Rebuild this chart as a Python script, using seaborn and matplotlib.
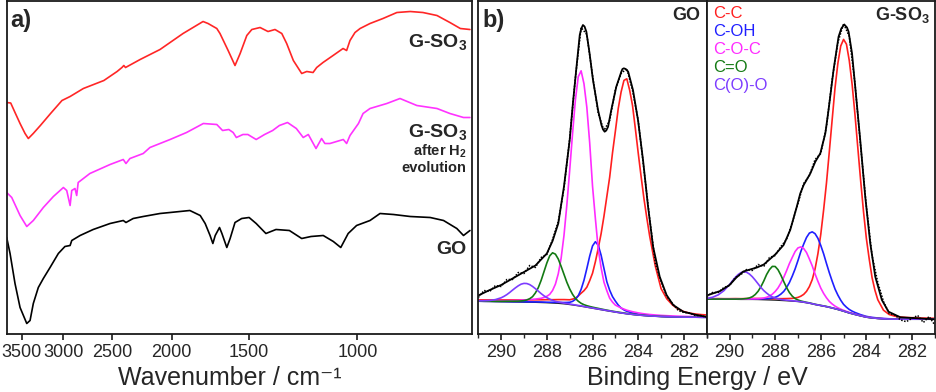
import numpy as np
import matplotlib
matplotlib.use("Agg")
import matplotlib.pyplot as plt
from matplotlib.ticker import FixedLocator, NullLocator, MultipleLocator
import seaborn as sns

# ---------- panel a: FTIR (heights in arbitrary units, curves stacked) ----------
gso3_wn = [3702, 3647, 3589, 3522, 3457, 3415, 3353, 3265, 3143, 3012, 2922, 2781, 2576, 2452,
           2408, 2391, 2376, 2250, 2089, 2012, 1917, 1779, 1746, 1690, 1670, 1620, 1579, 1549,
           1511, 1483, 1438, 1396, 1360, 1326, 1302, 1270, 1231, 1208, 1180, 1164, 1137, 1095,
           1055, 1041, 1028, 1009, 990, 954, 909, 863, 821, 783, 743, 708, 681, 657]
gso3_ir = [232, 231.5, 222, 211, 201, 196, 201, 209, 221, 234, 238, 246, 254, 263,
           267, 269, 267, 275, 285, 292, 301, 313, 311, 306, 301, 284, 269, 281,
           299, 305, 307, 303, 305, 301, 291, 274, 261, 263, 262, 267, 272, 279,
           286, 284, 294, 302, 306, 311, 316, 322, 323, 322, 319, 312, 306, 305]

used_wn = [3702, 3633, 3522, 3435, 3352, 3229, 3110, 2996, 2959, 2922, 2904, 2869, 2851, 2835,
           2714, 2517, 2396, 2372, 2337, 2224, 2169, 2012, 1892, 1777, 1690, 1654, 1616, 1590,
           1571, 1533, 1505, 1459, 1414, 1372, 1338, 1298, 1256, 1224, 1201, 1167, 1143, 1129,
           1108, 1054, 1041, 1028, 996, 979, 954, 896, 853, 801, 743, 708, 673, 657]
used_ir = [142, 137, 119, 108, 114, 127, 138, 147, 144, 129, 144, 146, 139, 152,
           161, 170, 175, 171, 176, 181, 187, 195, 202, 211, 210, 204, 205, 202,
           197, 200, 200, 195, 200, 204, 209, 212, 206, 197, 200, 186, 196, 191,
           191, 195, 191, 199, 211, 221, 226, 231, 236, 229, 226, 221, 217, 217]

go_wn = [3702, 3656, 3589, 3522, 3435, 3393, 3352, 3290, 3229, 3149, 3053, 2979, 2922, 2904,
         2815, 2681, 2517, 2396, 2372, 2309, 2224, 2089, 2012, 1869, 1798, 1765, 1733, 1715,
         1700, 1673, 1658, 1628, 1608, 1579, 1540, 1498, 1459, 1407, 1355, 1289, 1231, 1189,
         1136, 1094, 1064, 1035, 1003, 954, 919, 874, 821, 762, 725, 690, 673, 657]
go_ir = [97, 81, 51, 27, 11, 14, 31, 47, 56, 67, 81, 88, 89, 94,
         99, 105, 111, 114, 112, 116, 118, 121, 122, 124, 119, 111, 99, 91,
         99, 107, 101, 87, 96, 112, 116, 117, 111, 101, 105, 104, 96, 98,
         99, 93, 87, 101, 109, 114, 121, 120, 118, 117, 114, 106, 99, 104]

wn_ticks = [3500, 3000, 2500, 2000, 1500, 1000]

# ---------- panels b, c: XPS C1s ----------
# binding-energy grid of the fitted components (finer where the peaks are)
be = [291.0, 290.75, 290.5, 290.25,
      290.0, 289.875, 289.75, 289.625, 289.5, 289.375, 289.25, 289.125, 289.0, 288.875,
      288.75, 288.625, 288.5, 288.375, 288.25, 288.125, 288.0, 287.875, 287.75, 287.625,
      287.5, 287.375, 287.25, 287.125, 287.0, 286.875, 286.75, 286.625, 286.5, 286.375,
      286.25, 286.125, 286.0, 285.875, 285.75, 285.625, 285.5, 285.375, 285.25, 285.125,
      285.0, 284.875, 284.75, 284.625, 284.5, 284.375, 284.25, 284.125, 284.0, 283.875,
      283.75, 283.625, 283.5,
      283.25, 283.0, 282.75, 282.5, 282.25, 282.0, 281.75, 281.5, 281.25, 281.0]
# grid of the measured points
be_raw = [291.0, 290.75, 290.5, 290.25, 290.0, 289.75, 289.5, 289.25, 289.0, 288.75, 288.5,
          288.25, 288.0, 287.75, 287.5, 287.25, 287.0, 286.75, 286.5, 286.25, 286.0, 285.75,
          285.5, 285.25, 285.0, 284.75, 284.5, 284.25, 284.0, 283.75, 283.5, 283.25, 283.0,
          282.75, 282.5, 282.25, 282.0, 281.75, 281.5, 281.25, 281.0]
be_ticks = [290, 288, 286, 284, 282]

comp_names = ["C-C", "C-OH", "C-O-C", "C=O", "C(O)-O"]
comp_colors = ["#ff1f1f", "#1f1fff", "#ff2bff", "#137a13", "#7d3cff"]

# GO: background and component intensities above background
go_bg = [33.2, 33.1, 33.0, 32.9,
         32.8, 32.75, 32.7, 32.65, 32.6, 32.55, 32.5, 32.45, 32.4, 32.35, 32.3, 32.25, 32.2,
         32.1, 32.0, 31.9, 31.8, 31.65, 31.5, 31.35, 31.2, 30.95, 30.7, 30.35, 30.0, 29.6,
         29.2, 28.75, 28.3, 27.8, 27.3, 26.8, 26.3, 25.8, 25.3, 24.8, 24.3, 23.8, 23.3,
         22.85, 22.4, 21.95, 21.5, 21.1, 20.7, 20.35, 20.0, 19.7, 19.4, 19.15, 18.9, 18.7,
         18.5,
         18.2, 17.9, 17.7, 17.5, 17.4, 17.3, 17.2, 17.2, 17.1, 17.1]
go_cc = [1.5, 1.5, 1.6, 1.7,
         1.8, 1.85, 1.9, 1.95, 2.0, 2.05, 2.1, 2.15, 2.2, 2.25, 2.3, 2.4, 2.5, 2.6, 2.7, 2.85,
         3.0, 3.15, 3.3, 3.5, 3.7, 3.95, 4.2, 4.45, 4.7, 5.8, 7, 9.8, 13, 16, 20, 27, 35, 47,
         61, 76, 94, 114, 134, 159, 181, 204, 221, 233, 235, 224, 209, 186, 162, 139, 117, 98,
         80,
         50, 28, 18, 12, 8, 5.6, 4.2, 3.3, 2.8, 2.4]
go_coh = [0.1, 0.1, 0.2, 0.2,
          0.2, 0.2, 0.2, 0.2, 0.2, 0.25, 0.3, 0.3, 0.3, 0.3, 0.3, 0.35, 0.4, 0.45, 0.5, 0.5,
          0.5, 0.6, 0.7, 0.8, 0.9, 1.1, 1.3, 1.7, 2.2, 3.5, 5.9, 10, 16.8, 26.4, 38.6, 51.5,
          62.3, 67, 63.9, 54.5, 41.8, 29, 21, 15, 11, 7.5, 5, 3.5, 2.5, 2, 1.5, 1.2, 1.0, 0.85,
          0.7, 0.6, 0.5,
          0.4, 0.3, 0.3, 0.3, 0.2, 0.2, 0.2, 0.2, 0.2, 0.1]
go_coc = [0.7, 0.7, 0.8, 0.9,
          1.1, 1.15, 1.2, 1.3, 1.4, 1.55, 1.7, 1.95, 2.2, 2.4, 2.6, 2.9, 3.2, 3.7, 4.2, 5.2,
          6.4, 8.5, 12.5, 19, 29.5, 45.3, 68.3, 99, 134.1, 171.3, 205.4, 229, 235.4, 223, 200,
          165, 122, 90, 60.3, 42, 28, 20, 13, 9.5, 7, 6, 5, 4.3, 3.6, 3.2, 2.8, 2.5, 2.2, 2.0,
          1.8, 1.65, 1.5,
          1.3, 1.2, 1.1, 1.0, 0.9, 0.8, 0.8, 0.7, 0.7, 0.6]
go_co = [0.2, 0.2, 0.3, 0.3,
         0.4, 0.5, 0.6, 0.65, 0.7, 0.8, 0.9, 1.1, 1.5, 2.2, 3.5, 5.6, 9.4, 14.7, 22.1, 30.9,
         39.7, 47, 50.2, 49, 44.3, 37.2, 29.5, 21.9, 15.6, 10.6, 6.9, 4.5, 2.9, 2.0, 1.5, 1.2,
         1.0, 0.9, 0.8, 0.7, 0.6, 0.55, 0.5, 0.45, 0.4, 0.4, 0.4, 0.35, 0.3, 0.3, 0.3, 0.3,
         0.3, 0.3, 0.3, 0.25, 0.2,
         0.2, 0.2, 0.2, 0.2, 0.2, 0.2, 0.2, 0.2, 0.2, 0.2]
go_coo = [0.4, 0.6, 1.0, 2.0,
          3.9, 5.4, 7.2, 9.4, 11.8, 14.1, 16.2, 17.9, 18.7, 18.6, 17.6, 15.8, 13.6, 11.3, 8.9,
          6.8, 5.1, 3.7, 2.6, 1.8, 1.3, 1.0, 0.7, 0.6, 0.5, 0.4, 0.3, 0.3, 0.3, 0.25, 0.2, 0.2,
          0.2, 0.2, 0.2, 0.2, 0.2, 0.2, 0.2, 0.2, 0.1, 0.1, 0.1, 0.1, 0.1, 0.1, 0.1, 0.1, 0.1,
          0.1, 0.1, 0.1, 0.1,
          0.1, 0.1, 0.1, 0.1, 0.1, 0.1, 0.1, 0.1, 0.1, 0.1]
go_raw = [37, 44, 43, 49, 48, 55, 55, 62, 61, 69, 67, 77, 80, 95, 113, 146, 196, 257, 307, 300,
          259, 221, 204, 214, 245, 261, 266, 244, 214, 165, 116, 71, 53, 38, 31, 24, 22, 21.5,
          19, 19, 17]
go_fit_be = [291.0, 290.5, 290.0, 289.5, 289.0, 288.5, 288.0, 287.75, 287.5, 287.25, 287.0,
             286.86, 286.7, 286.56, 286.49, 286.42, 286.35, 286.27, 286.13, 285.98, 285.76,
             285.61, 285.54, 285.47, 285.4, 285.32, 285.18, 284.96, 284.74, 284.69, 284.63,
             284.55, 284.44, 284.23, 284.01, 283.79, 283.57, 283.35, 283.06, 282.76, 282.47,
             282.03, 281.45, 281.0]
go_fit = [39, 44.5, 49.5, 56, 62.5, 69, 81, 93.5, 111, 148, 194.5, 231, 268, 299.5, 306, 309.5,
          308, 302.8, 281.2, 254.5, 224.5, 209.5, 205, 202.8, 204, 207.8, 224.5, 247.8, 262.8,
          265.5, 266.2, 265.5, 262.8, 244.5, 214.5, 174.5, 127.8, 87.8, 57.8, 39.5, 29.5,
          22.8, 19.5, 17.6]

# G-SO3
gs_bg = [35.3, 35.3, 35.3, 35.2,
         35.2, 35.2, 35.2, 35.15, 35.1, 35.1, 35.1, 35.1, 35.1, 35.05, 35.0, 34.9, 34.8, 34.7,
         34.6, 34.5, 34.4, 34.25, 34.1, 33.95, 33.8, 33.6, 33.4, 33.2, 33.0, 32.6, 32.2,
         31.75, 31.3, 30.65, 30.0, 29.45, 28.9, 28.35, 27.8, 27.15, 26.5, 25.75, 25.0, 24.15,
         23.3, 22.4, 21.5, 20.75, 20.0, 19.3, 18.6, 17.95, 17.3, 16.9, 16.5, 16.25, 16.0,
         15.6, 15.4, 15.3, 15.2, 15.2, 15.2, 15.2, 15.2, 15.2, 15.2]
gs_cc = [0.5, 0.5, 0.6, 0.6,
         0.6, 0.65, 0.7, 0.7, 0.7, 0.75, 0.8, 0.85, 0.9, 0.95, 1.0, 1.05, 1.1, 1.2, 1.3, 1.4,
         1.5, 1.6, 1.7, 1.9, 2.1, 2.4, 2.7, 3.3, 4.1, 5.7, 7.9, 11.4, 16.6, 24.2, 35.6, 51.4,
         71.3, 96.3, 123.8, 155.9, 188.5, 220.9, 246.2, 264.4, 271.8, 268, 252.4, 229.3,
         199.9, 167.3, 134.9, 104.7, 78.6, 58.5, 40.3, 28, 18.8,
         8.7, 4.6, 3.0, 2.3, 1.8, 1.6, 1.4, 1.2, 1.1, 1.0]
gs_coh = [0.2, 0.2, 0.2, 0.2,
          0.3, 0.3, 0.3, 0.35, 0.4, 0.4, 0.4, 0.45, 0.5, 0.55, 0.6, 0.75, 0.9, 1.1, 1.4, 2.0,
          2.8, 4.2, 6.3, 9.1, 13.2, 18.4, 25.0, 32.4, 41.0, 50.4, 58.2, 65.3, 70.1, 72, 70.8,
          66.7, 60.1, 52.3, 43.2, 34.6, 26.8, 19.7, 14.4, 10.1, 6.8, 4.9, 3.5, 2.6, 2.0, 1.6,
          1.2, 1.0, 0.8, 0.7, 0.6, 0.55, 0.5,
          0.4, 0.3, 0.3, 0.3, 0.2, 0.2, 0.2, 0.2, 0.2, 0.2]
gs_coc = [0.2, 0.2, 0.2, 0.2,
          0.3, 0.3, 0.3, 0.3, 0.3, 0.35, 0.4, 0.5, 0.6, 0.7, 0.8, 1.2, 1.7, 2.5, 3.9, 5.8,
          8.6, 12.3, 17.3, 23.2, 30.0, 37.4, 43.7, 49.8, 53.6, 55, 53.8, 50.2, 44.2, 38, 30.5,
          23.7, 17.5, 12.7, 8.9, 5.9, 4.0, 2.6, 1.7, 1.2, 0.9, 0.7, 0.6, 0.5, 0.4, 0.35, 0.3,
          0.3, 0.3, 0.3, 0.3, 0.25, 0.2,
          0.2, 0.2, 0.2, 0.2, 0.2, 0.2, 0.2, 0.2, 0.2, 0.2]
gs_co = [0.1, 0.1, 0.1, 0.2,
         0.2, 0.2, 0.2, 0.3, 0.4, 0.6, 0.9, 1.5, 2.7, 4.9, 8.2, 12.9, 18.7, 25.3, 30.3, 33.6,
         33.6, 30.5, 25.2, 19, 13.1, 8.3, 4.9, 2.7, 1.5, 0.9, 0.6, 0.4, 0.3, 0.25, 0.2, 0.2,
         0.2, 0.2, 0.2, 0.15, 0.1, 0.1, 0.1, 0.1, 0.1, 0.1, 0.1, 0.1, 0.1, 0.1, 0.1, 0.1, 0.1,
         0.1, 0.1, 0.1, 0.1,
         0.1, 0.1, 0.1, 0.1, 0.1, 0.1, 0.1, 0.1, 0.1, 0.1]
gs_coo = [0.8, 1.9, 4.3, 8.6,
          14.8, 18.5, 21.9, 24.8, 26.8, 27.6, 27.1, 25.3, 22.6, 19.3, 15.7, 12.1, 9.1, 6.7,
          4.6, 3.1, 2.1, 1.4, 0.9, 0.7, 0.5, 0.4, 0.3, 0.25, 0.2, 0.2, 0.2, 0.15, 0.1, 0.1,
          0.1, 0.1, 0.1, 0.1, 0.1, 0.1, 0.1, 0.1, 0.1, 0.1, 0.1, 0.1, 0.1, 0.1, 0.1, 0.1, 0.1,
          0.1, 0.1, 0.1, 0.1, 0.1, 0.1,
          0.1, 0.1, 0.1, 0.1, 0.1, 0.1, 0.1, 0.1, 0.1, 0.1]
gs_raw = [38, 42, 42, 47, 49, 57, 60, 65, 64, 70, 68, 77, 79, 88, 95, 112, 131, 151, 159, 175,
          181, 208, 255, 292, 311, 298, 251, 188, 128, 79, 52, 33, 21, 19.5, 14.5, 12.8, 16.2,
          19, 12, 18, 9.5]
gs_fit_be = [291.0, 290.41, 290.0, 289.7, 289.4, 289.1, 288.8, 288.5, 288.2, 288.0, 287.63,
             287.34, 287.05, 286.9, 286.75, 286.46, 286.24, 286.02, 285.8, 285.66, 285.44,
             285.22, 285.1, 284.97, 284.85, 284.78, 284.63, 284.49, 284.27, 284.05, 283.83,
             283.61, 283.32, 283.03, 282.51, 281.0]
gs_fit = [39, 43.5, 49.5, 57, 63, 65, 67, 70, 76, 80, 89.5, 104.5, 128, 141, 149.5, 161, 172.8,
          181.2, 201.2, 224.5, 264.5, 297.8, 306, 310, 307, 302.8, 281.2, 247.8, 194.5, 137.8,
          91.2, 57.8, 34.5, 22.8, 17.2, 15.2]

# ---------- style ----------
sns.set_style("ticks")
plt.rcParams["font.family"] = ["Liberation Sans", "DejaVu Sans"]
plt.rcParams["mathtext.fontset"] = "custom"
plt.rcParams["mathtext.rm"] = "Liberation Sans"
plt.rcParams["mathtext.bf"] = "Liberation Sans:bold"
plt.rcParams["mathtext.it"] = "Liberation Sans:italic"

fig = plt.figure(figsize=(9.36, 3.92), dpi=100)
ax_a = fig.add_axes([0.00716, 0.1467, 0.4971, 0.852])
ax_b = fig.add_axes([0.5110, 0.1467, 0.2441, 0.852])
ax_c = fig.add_axes([0.7551, 0.1467, 0.2436, 0.852])

for ax in (ax_a, ax_b, ax_c):
    for sp in ax.spines.values():
        sp.set_visible(True)
        sp.set_linewidth(1.3)
        sp.set_color("#1a1a1a")
    ax.tick_params(axis="x", direction="out", length=4.5, width=1.2, labelsize=13, pad=2,
                   color="#1a1a1a")
    ax.tick_params(axis="y", left=False, labelleft=False)

# panel a
sns.lineplot(x=go_wn, y=go_ir, ax=ax_a, color="black", linewidth=1.2)
sns.lineplot(x=used_wn, y=used_ir, ax=ax_a, color="#ff33ff", linewidth=1.2)
sns.lineplot(x=gso3_wn, y=gso3_ir, ax=ax_a, color="#ff2626", linewidth=1.2)
ax_a.set_xscale("log")
ax_a.set_xlim(3702, 652)
ax_a.xaxis.set_major_locator(FixedLocator(wn_ticks))
ax_a.xaxis.set_minor_locator(NullLocator())
ax_a.set_xticklabels([str(t) for t in wn_ticks])
ax_a.set_ylim(0, 334)
ax_a.set_xlabel("")
ax_a.set_ylabel("")

ax_a.text(0.007, 0.975, "a)", transform=ax_a.transAxes, fontsize=17, fontweight="bold",
          ha="left", va="top")
lab = dict(transform=ax_a.transAxes, fontweight="bold", ha="right", va="baseline")
ax_a.text(0.9886, 0.862, r"G-SO$_\mathbf{3}$", fontsize=14, **lab)
ax_a.text(0.9886, 0.592, r"G-SO$_\mathbf{3}$", fontsize=14, **lab)
ax_a.text(0.9886, 0.537, r"after H$_\mathbf{2}$", fontsize=10.5, **lab)
ax_a.text(0.9886, 0.487, "evolution", fontsize=10.5, **lab)
ax_a.text(0.9886, 0.241, "GO", fontsize=14, **lab)


def draw_xps(ax, bg, comps, raw, fit_be, fit):
    sns.lineplot(x=be, y=bg, ax=ax, color="#202020", linewidth=1.0)
    for comp, col in zip(comps, comp_colors):
        sns.lineplot(x=be, y=np.add(bg, comp), ax=ax, color=col, linewidth=1.2)
    ax.plot(be_raw, raw, color="black", linestyle=(0, (1, 1)), linewidth=1.1)
    sns.lineplot(x=fit_be, y=fit, ax=ax, color="black", linewidth=1.3)
    ax.set_xlim(291, 281)
    ax.set_ylim(0, 334)
    ax.xaxis.set_major_locator(FixedLocator(be_ticks))
    ax.xaxis.set_minor_locator(MultipleLocator(1))
    ax.tick_params(axis="x", which="minor", direction="out", length=3, width=1.0)
    ax.set_xlabel("")
    ax.set_ylabel("")


draw_xps(ax_b, go_bg, [go_cc, go_coh, go_coc, go_co, go_coo], go_raw, go_fit_be, go_fit)
draw_xps(ax_c, gs_bg, [gs_cc, gs_coh, gs_coc, gs_co, gs_coo], gs_raw, gs_fit_be, gs_fit)

ax_b.text(0.02, 0.975, "b)", transform=ax_b.transAxes, fontsize=17, fontweight="bold",
          ha="left", va="top")
ax_b.text(0.970, 0.943, "GO", transform=ax_b.transAxes, fontsize=13, fontweight="bold",
          ha="right", va="baseline")
ax_c.text(0.979, 0.942, r"G-SO$_\mathbf{3}$", transform=ax_c.transAxes, fontsize=13,
          fontweight="bold", ha="right", va="baseline")
for i, (name, col) in enumerate(zip(comp_names, comp_colors)):
    ax_c.text(0.027, 0.947 - i * 0.0535, name, transform=ax_c.transAxes, fontsize=12,
              color=col, ha="left", va="baseline")

fig.text(230 / 936, 0.0185, "Wavenumber / cm\u207b\u00b9", fontsize=18, ha="center",
         va="baseline")
fig.text(697.5 / 936, 0.0185, "Binding Energy / eV", fontsize=18, ha="center",
         va="baseline")

fig.savefig("out.png", dpi=100)
